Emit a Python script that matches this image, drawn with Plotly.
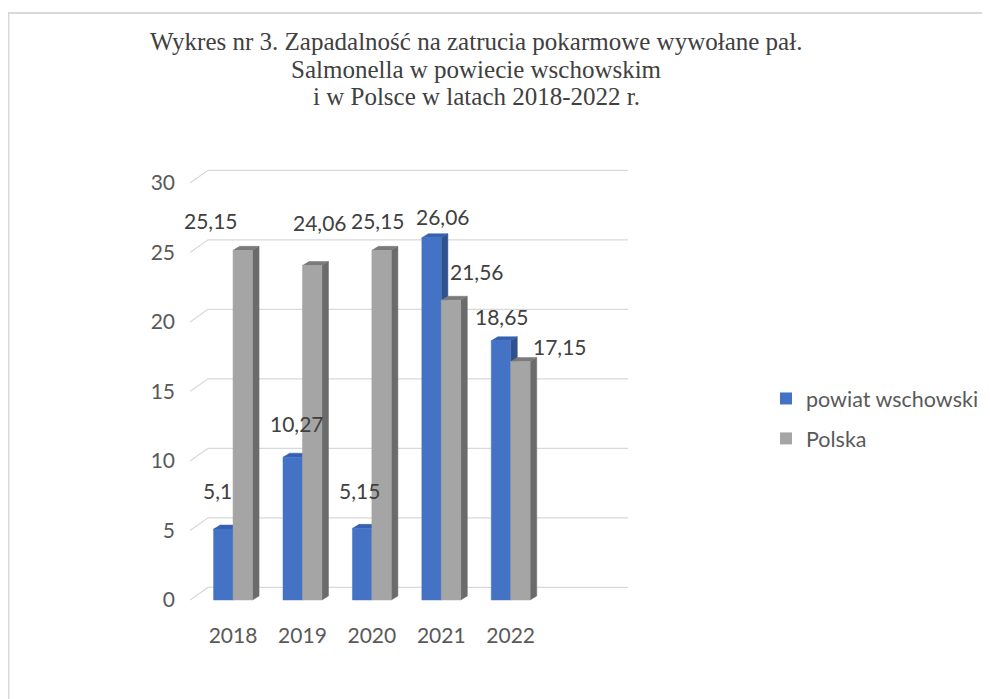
import plotly.graph_objects as go

years = ["2018", "2019", "2020", "2021", "2022"]
powiat = [5.1, 10.27, 5.15, 26.06, 18.65]
polska = [25.15, 24.06, 25.15, 21.56, 17.15]
powiat_labels = ["5,1", "10,27", "5,15", "26,06", "18,65"]
polska_labels = ["25,15", "24,06", "25,15", "21,56", "17,15"]
y_ticks = [0, 5, 10, 15, 20, 25, 30]
title_lines = ["Wykres nr 3. Zapadalność na zatrucia pokarmowe wywołane pał.",
               "Salmonella w powiecie wschowskim",
               "i w Polsce w latach 2018-2022 r."]

# pixel nudges of the data labels (Excel placed them irregularly)
powiat_shift = [(-6, 39), (4, 34), (-3, 38), (11, 21), (1, 24)]
polska_shift = [(-32, 30), (8, 43), (-4, 30), (26, 29), (40, 15)]

W = 0.28    # bar width, category units
DX = 0.095  # 3d depth, horizontal
DY = 0.29   # 3d depth, vertical
GRID_DY = 0.91
X0, X_BACK, X1 = -0.62, -0.36, 5.69

# the page puts the figure 8px in from the window corner
FW, FH, OFF = 982, 691, 8


def px(s):
    return (s - OFF) / FW


def py(s):
    return 1 - (s - OFF) / FH


TXT = "#595959"
FONT = "Lato"


def faces(values, left):
    front_x, front_y, side_x, side_y, top_x, top_y = [], [], [], [], [], []
    for i, v in enumerate(values):
        a = i + left
        b = a + W
        front_x += [a, b, b, a, a, None]
        front_y += [0, 0, v, v, 0, None]
        side_x += [b, b + DX, b + DX, b, b, None]
        side_y += [0, DY, v + DY, v, 0, None]
        top_x += [a, a + DX, b + DX, b, a, None]
        top_y += [v, v + DY, v + DY, v, v, None]
    return (front_x, front_y), (side_x, side_y), (top_x, top_y)


fig = go.Figure()

# perspective gridlines
gx, gy = [], []
for t in y_ticks:
    gx += [X0, X_BACK, X1, None]
    gy += [t, t + GRID_DY, t + GRID_DY, None]
fig.add_trace(go.Scatter(x=gx, y=gy, mode="lines", line=dict(color="#d9d9d9", width=1.3),
                         showlegend=False, hoverinfo="skip"))

series = [
    ("powiat wschowski", powiat, -W, "#4472C4", "#2F528F", "#3561B0"),
    ("Polska", polska, 0.0, "#A5A5A5", "#6B6B6B", "#7A7A7A"),
]
for name, vals, left, c_front, c_side, c_top in series:
    front, side, top = faces(vals, left)
    for (xs, ys), col in [(side, c_side), (top, c_top), (front, c_front)]:
        fig.add_trace(go.Scatter(x=xs, y=ys, mode="lines", fill="toself", fillcolor=col,
                                 line=dict(color=col, width=0.5), showlegend=False,
                                 hoverinfo="skip"))

# legend entries
for k, (name, vals, left, c_front, c_side, c_top) in enumerate(series):
    fig.add_trace(go.Scatter(x=[None], y=[None], mode="markers", name=name,
                             marker=dict(symbol="square", size=12, color=c_front),
                             legendgroup=str(k)))

# data labels
for vals, texts, shifts, left in [(powiat, powiat_labels, powiat_shift, -W),
                                  (polska, polska_labels, polska_shift, 0.0)]:
    for i, (v, t, (sx, sy)) in enumerate(zip(vals, texts, shifts)):
        fig.add_annotation(x=i + left + W / 2, y=v, xref="x", yref="y", text=t,
                           showarrow=False, xshift=sx, yshift=sy,
                           font=dict(family=FONT, size=21, color="#404040"))

# title, one line per annotation
for line, yc in zip(title_lines, [41, 69, 97]):
    fig.add_annotation(x=px(476), y=py(yc), xref="paper", yref="paper", text=line,
                       showarrow=False, xanchor="center", yanchor="middle",
                       font=dict(family="Liberation Serif", size=25, color="#404040"))

# outer frame
fig.add_shape(type="rect", xref="paper", yref="paper", x0=0.5 / FW, x1=1.2,
              y0=-0.2, y1=py(13), line=dict(color="#d9d9d9", width=2))

fig.update_layout(
    width=FW, height=FH,
    margin=dict(l=0, r=0, t=0, b=0),
    paper_bgcolor="white", plot_bgcolor="white",
    xaxis=dict(domain=[px(190), px(628)], range=[X0, X1], tickvals=list(range(len(years))),
               ticktext=years, showgrid=False, zeroline=False, showline=False,
               tickfont=dict(family=FONT, size=21, color=TXT)),
    yaxis=dict(domain=[py(620.85), py(162.1)], range=[-1.5, 31.5], tickvals=y_ticks,
               showgrid=False, zeroline=False, showline=False, ticklabelstandoff=14,
               tickfont=dict(family=FONT, size=21, color=TXT)),
    legend=dict(x=px(766), y=py(378), xanchor="left", yanchor="top",
                font=dict(family=FONT, size=21.5, color=TXT), tracegroupgap=9,
                bgcolor="rgba(0,0,0,0)"),
    showlegend=True,
)

fig.write_html("out.html")
